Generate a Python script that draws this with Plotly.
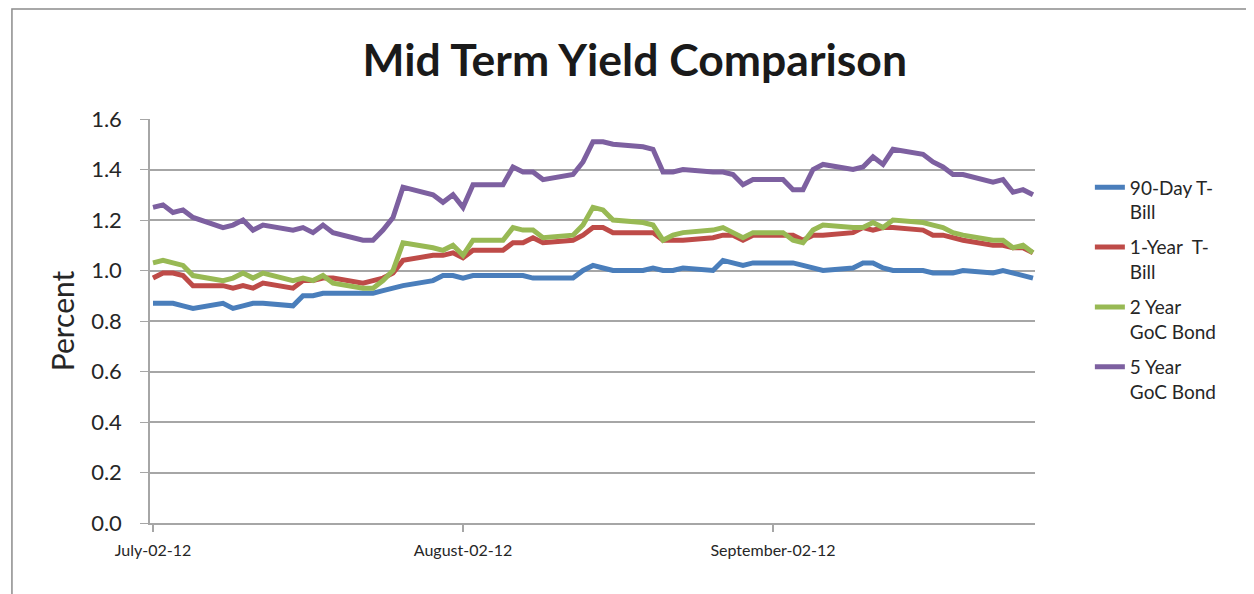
import plotly.graph_objects as go

dates = [
    "2012-07-02", "2012-07-03", "2012-07-04", "2012-07-05", "2012-07-06",
    "2012-07-09", "2012-07-10", "2012-07-11", "2012-07-12", "2012-07-13",
    "2012-07-16", "2012-07-17", "2012-07-18", "2012-07-19", "2012-07-20",
    "2012-07-23", "2012-07-24", "2012-07-25", "2012-07-26", "2012-07-27",
    "2012-07-30", "2012-07-31", "2012-08-01", "2012-08-02", "2012-08-03",
    "2012-08-06", "2012-08-07", "2012-08-08", "2012-08-09", "2012-08-10",
    "2012-08-13", "2012-08-14", "2012-08-15", "2012-08-16", "2012-08-17",
    "2012-08-20", "2012-08-21", "2012-08-22", "2012-08-23", "2012-08-24",
    "2012-08-27", "2012-08-28", "2012-08-29", "2012-08-30", "2012-08-31",
    "2012-09-03", "2012-09-04", "2012-09-05", "2012-09-06", "2012-09-07",
    "2012-09-10", "2012-09-11", "2012-09-12", "2012-09-13", "2012-09-14",
    "2012-09-17", "2012-09-18", "2012-09-19", "2012-09-20", "2012-09-21",
    "2012-09-24", "2012-09-25", "2012-09-26", "2012-09-27", "2012-09-28",
]

tbill_90d = [
    0.87, 0.87, 0.87, 0.86, 0.85,
    0.87, 0.85, 0.86, 0.87, 0.87,
    0.86, 0.90, 0.90, 0.91, 0.91,
    0.91, 0.91, 0.92, 0.93, 0.94,
    0.96, 0.98, 0.98, 0.97, 0.98,
    0.98, 0.98, 0.98, 0.97, 0.97,
    0.97, 1.00, 1.02, 1.01, 1.00,
    1.00, 1.01, 1.00, 1.00, 1.01,
    1.00, 1.04, 1.03, 1.02, 1.03,
    1.03, 1.03, 1.02, 1.01, 1.00,
    1.01, 1.03, 1.03, 1.01, 1.00,
    1.00, 0.99, 0.99, 0.99, 1.00,
    0.99, 1.00, 0.99, 0.98, 0.97,
]

tbill_1y = [
    0.97, 0.99, 0.99, 0.98, 0.94,
    0.94, 0.93, 0.94, 0.93, 0.95,
    0.93, 0.96, 0.96, 0.97, 0.97,
    0.95, 0.96, 0.97, 0.99, 1.04,
    1.06, 1.06, 1.07, 1.05, 1.08,
    1.08, 1.11, 1.11, 1.13, 1.11,
    1.12, 1.14, 1.17, 1.17, 1.15,
    1.15, 1.15, 1.12, 1.12, 1.12,
    1.13, 1.14, 1.14, 1.12, 1.14,
    1.14, 1.14, 1.12, 1.14, 1.14,
    1.15, 1.17, 1.16, 1.17, 1.17,
    1.16, 1.14, 1.14, 1.13, 1.12,
    1.10, 1.10, 1.09, 1.09, 1.07,
]

goc_2y = [
    1.03, 1.04, 1.03, 1.02, 0.98,
    0.96, 0.97, 0.99, 0.97, 0.99,
    0.96, 0.97, 0.96, 0.98, 0.95,
    0.93, 0.93, 0.96, 1.00, 1.11,
    1.09, 1.08, 1.10, 1.06, 1.12,
    1.12, 1.17, 1.16, 1.16, 1.13,
    1.14, 1.18, 1.25, 1.24, 1.20,
    1.19, 1.18, 1.12, 1.14, 1.15,
    1.16, 1.17, 1.15, 1.13, 1.15,
    1.15, 1.12, 1.11, 1.16, 1.18,
    1.17, 1.17, 1.19, 1.17, 1.20,
    1.19, 1.18, 1.17, 1.15, 1.14,
    1.12, 1.12, 1.09, 1.10, 1.07,
]

goc_5y = [
    1.25, 1.26, 1.23, 1.24, 1.21,
    1.17, 1.18, 1.20, 1.16, 1.18,
    1.16, 1.17, 1.15, 1.18, 1.15,
    1.12, 1.12, 1.16, 1.21, 1.33,
    1.30, 1.27, 1.30, 1.25, 1.34,
    1.34, 1.41, 1.39, 1.39, 1.36,
    1.38, 1.43, 1.51, 1.51, 1.50,
    1.49, 1.48, 1.39, 1.39, 1.40,
    1.39, 1.39, 1.38, 1.34, 1.36,
    1.36, 1.32, 1.32, 1.40, 1.42,
    1.40, 1.41, 1.45, 1.42, 1.48,
    1.46, 1.43, 1.41, 1.38, 1.38,
    1.35, 1.36, 1.31, 1.32, 1.30,
]

series_names = ["90-Day T-<br>Bill", "1-Year  T-<br>Bill", "2 Year<br>GoC Bond", "5 Year<br>GoC Bond"]
series_colors = ["#4A7EBB", "#BE4B48", "#98B954", "#7D60A0"]
series_values = [tbill_90d, tbill_1y, goc_2y, goc_5y]

x_tick_vals = ["2012-07-02", "2012-08-02", "2012-09-02"]
x_tick_text = ["July-02-12", "August-02-12", "September-02-12"]

FONT = "Lato, Carlito, Calibri, sans-serif"
GRID = "#A6A6A6"

fig = go.Figure()
for i, (name, color, vals) in enumerate(zip(series_names, series_colors, series_values)):
    fig.add_trace(go.Scatter(
        x=dates, y=vals, mode="lines", name=name,
        line=dict(color=color, width=5),
        legendgroup=f"g{i}",
    ))

fig.update_layout(
    width=1246, height=586,
    margin=dict(l=142, r=219, t=111, b=71),
    paper_bgcolor="white", plot_bgcolor="white",
    font=dict(family=FONT, color="#262626"),
    title=dict(text="<b>Mid Term Yield Comparison</b>", x=0.503, xanchor="center",
               y=0.911, yanchor="middle", font=dict(size=44.5, family=FONT, color="#1a1a1a")),
    showlegend=True,
    legend=dict(x=1.062, xanchor="left", y=0.878, yanchor="top", valign="top",
                font=dict(size=19, family=FONT, color="#262626"),
                tracegroupgap=7.5, bgcolor="rgba(0,0,0,0)"),
    xaxis=dict(
        type="date",
        range=["2012-07-01 16:48", "2012-09-28 04:48"],
        tickvals=x_tick_vals, ticktext=x_tick_text,
        showgrid=False, showline=True, linecolor=GRID, linewidth=2,
        ticks="outside", ticklen=7, tickcolor=GRID, tickwidth=1.5,
        ticklabelstandoff=5,
        tickfont=dict(size=16, family=FONT, color="#262626"),
        zeroline=False, automargin=False,
    ),
    yaxis=dict(
        range=[0, 1.6], dtick=0.2, tickformat=".1f",
        showgrid=True, gridcolor=GRID, gridwidth=1.5,
        showline=True, linecolor=GRID, linewidth=1.5,
        ticks="outside", ticklen=8, tickcolor=GRID,
        ticklabelstandoff=14,
        tickfont=dict(size=22, family=FONT, color="#262626"),
        title=dict(text="Percent", font=dict(size=30, family=FONT, color="#262626"), standoff=8),
        zeroline=False, automargin=False,
    ),
    shapes=[dict(type="rect", xref="paper", yref="paper",
                 x0=-0.156, x1=1.3, y0=-0.3, y1=1.272,
                 line=dict(color="#8C8C8C", width=1.5), fillcolor="rgba(0,0,0,0)",
                 layer="below")],
)

fig.write_html("out.html")
